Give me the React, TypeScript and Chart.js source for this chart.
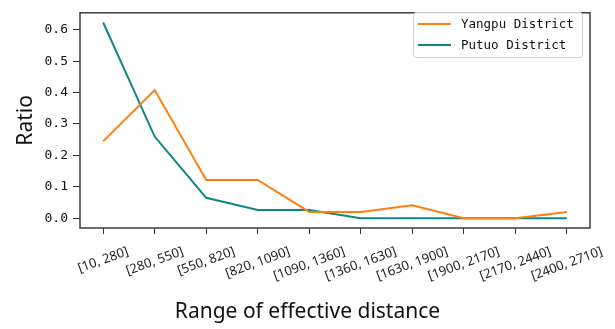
import React, { useEffect, useRef } from 'react';
import { Chart, registerables } from 'chart.js';

Chart.register(...registerables);

const categories = [
  '[10, 280]', '[280, 550]', '[550, 820]', '[820, 1090]', '[1090, 1360]',
  '[1360, 1630]', '[1630, 1900]', '[1900, 2170]', '[2170, 2440]', '[2400, 2710]',
];
const yangpu = [0.245, 0.408, 0.122, 0.122, 0.02, 0.02, 0.041, 0.0, 0.0, 0.02];
const putuo = [0.623, 0.26, 0.065, 0.026, 0.026, 0.0, 0.0, 0.0, 0.0, 0.0];
const yTicks = [0, 0.1, 0.2, 0.3, 0.4, 0.5, 0.6];
const seriesNames = ['Yangpu District', 'Putuo District'];
const seriesColors = ['#ff7f0e', '#0f8585'];
const xTitle = 'Range of effective distance';
const yTitle = 'Ratio';

const overlay = {
  id: 'overlay',
  afterDraw(chart: any) {
    const { ctx, chartArea: a, scales } = chart;
    ctx.save();
    // frame
    ctx.strokeStyle = '#3c3c3c';
    ctx.lineWidth = 1.5;
    ctx.strokeRect(a.left, a.top, a.right - a.left, a.bottom - a.top);

    // rotated category labels
    ctx.font = '13px "Noto Sans"';
    ctx.fillStyle = '#222';
    const th = (20 * Math.PI) / 180;
    categories.forEach((c, i) => {
      const x = scales.x.getPixelForValue(i);
      const w = ctx.measureText(c).width;
      const H = w * Math.sin(th) + 13 * Math.cos(th);
      ctx.save();
      ctx.translate(x, a.bottom + 17 + H / 2);
      ctx.rotate(-th);
      ctx.textAlign = 'center';
      ctx.textBaseline = 'middle';
      ctx.fillText(c, 0, 0);
      ctx.restore();
    });

    // x title (centred on figure)
    ctx.font = '21px "Noto Sans"';
    ctx.fillStyle = '#111';
    ctx.textAlign = 'center';
    ctx.textBaseline = 'alphabetic';
    ctx.fillText(xTitle, chart.width / 2, 318);

    // legend
    const lx = 413, ly = 12, lw = 169, lh = 45;
    ctx.beginPath();
    ctx.roundRect(lx + 0.5, ly + 0.5, lw, lh, 3);
    ctx.fillStyle = 'rgba(255,255,255,0.85)';
    ctx.fill();
    ctx.strokeStyle = '#d0d0d0';
    ctx.lineWidth = 1;
    ctx.stroke();
    ctx.font = '12.5px "DejaVu Sans Mono"';
    ctx.textAlign = 'left';
    ctx.textBaseline = 'middle';
    seriesNames.forEach((name, i) => {
      const y = ly + 12 + i * 21;
      ctx.strokeStyle = seriesColors[i];
      ctx.lineWidth = 2;
      ctx.beginPath();
      ctx.moveTo(lx + 5, y);
      ctx.lineTo(lx + 38, y);
      ctx.stroke();
      ctx.fillStyle = '#111';
      ctx.fillText(name, lx + 48, y + 1);
    });
    ctx.restore();
  },
};

export default function App() {
  const ref = useRef<HTMLCanvasElement>(null);
  useEffect(() => {
    if (!ref.current) return;
    const chart = new Chart(ref.current, {
      type: 'line',
      data: {
        datasets: [yangpu, putuo].map((arr, k) => ({
          label: seriesNames[k],
          data: arr.map((v, i) => ({ x: i, y: v })),
          borderColor: seriesColors[k],
          backgroundColor: seriesColors[k],
          borderWidth: 2,
          pointRadius: 0,
          tension: 0,
          fill: false,
        })),
      },
      options: {
        animation: false,
        responsive: true,
        maintainAspectRatio: false,
        layout: { padding: { top: 5, right: 25, left: 0, bottom: 0 } },
        plugins: { legend: { display: false }, tooltip: { enabled: false } },
        scales: {
          x: {
            type: 'linear',
            min: -0.45,
            max: 9.45,
            afterBuildTicks: (s: any) => {
              s.ticks = categories.map((_, i) => ({ value: i }));
            },
            afterFit: (s: any) => {
              s.height = 101;
            },
            ticks: { display: false },
            grid: { drawOnChartArea: false, drawTicks: true, tickLength: 6, color: '#333' },
            border: { display: false },
          },
          y: {
            min: -0.0312,
            max: 0.654,
            afterBuildTicks: (s: any) => {
              s.ticks = yTicks.map((v) => ({ value: v }));
            },
            afterFit: (s: any) => {
              s.width = 80;
            },
            ticks: {
              callback: (v: any) => Number(v).toFixed(1),
              font: { family: '"DejaVu Sans Mono"', size: 13 },
              color: '#111',
              padding: 5,
            },
            grid: { drawOnChartArea: false, drawTicks: true, tickLength: 7, color: '#333' },
            border: { display: false },
            title: {
              display: true,
              text: yTitle,
              font: { family: '"Noto Sans"', size: 21 },
              color: '#111',
              padding: { top: 13, bottom: 0 },
            },
          },
        },
      },
      plugins: [overlay],
    });
    return () => chart.destroy();
  }, []);
  return (
    <div style={{ position: 'absolute', left: 0, top: 0, width: 615, height: 329 }}>
      <canvas ref={ref} style={{ display: 'block' }} />
    </div>
  );
}
